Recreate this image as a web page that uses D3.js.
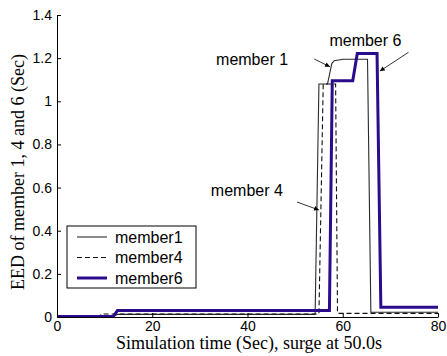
<!DOCTYPE html>
<html>
<head>
<meta charset="utf-8">
<script src="https://cdn.jsdelivr.net/npm/d3@7"></script>
<style>
body { margin: 0; background: #fff; }
svg { display: block; }
</style>
</head>
<body>
<script>
var width = 447;
var height = 356;
var margin = {top: 15, right: 9, bottom: 39, left: 57};

// data: [time (s), EED (s)] step samples
var member1 = [[0, 0.001], [3, 0.005], [12, 0.005], [12.7, 0.012], [54.2, 0.012], [55.0, 1.08],
    [56.8, 1.08], [57.7, 1.175], [58.2, 1.188], [60.1, 1.195], [65.2, 1.195], [65.9, 0.022], [80, 0.022]];
var member4 = [[0, 0.001], [9, 0.003], [9.3, 0.014], [55.0, 0.014], [55.9, 1.08], [58.5, 1.08],
    [58.9, 0.017], [80, 0.017]];
var member6 = [[0, 0.002], [11.8, 0.002], [12.7, 0.03], [57.2, 0.03], [57.8, 1.095], [62.1, 1.095],
    [63.05, 1.222], [67.2, 1.222], [68.0, 0.045], [80, 0.045]];

var x_ticks = [0, 20, 40, 60, 80];
var y_ticks = [0, 0.2, 0.4, 0.6, 0.8, 1, 1.2, 1.4];
var legend_names = ["member1", "member4", "member6"];

// annotations: text anchor and arrow (from, to) in data units
var notes = [
    {label: "member 1", tx: 33.4, ty: 1.168, from: [54.0, 1.196], to: [57.3, 1.16]},
    {label: "member 6", tx: 57.2, ty: 1.258, from: [73.8, 1.227], to: [67.8, 1.14]},
    {label: "member 4", tx: 32.3, ty: 0.562, from: [50.4, 0.533], to: [55.0, 0.496]}
];

var sans = "'Liberation Sans', Arial, Helvetica, sans-serif";
var serif = "'Liberation Serif', 'Times New Roman', serif";

var series = [
    {name: "member1", data: member1, color: "#2a2a2a", w: 1.1, dash: null},
    {name: "member4", data: member4, color: "#111", w: 1.1, dash: "5,3"},
    {name: "member6", data: member6, color: "#2a0b8c", w: 3, dash: null}
];

var svg = d3.select("body")
    .append("svg")
    .attr("width", width)
    .attr("height", height);

var x = d3.scaleLinear().domain([0, 80]).range([margin.left, width - margin.right]);
var y = d3.scaleLinear().domain([0, 1.4]).range([height - margin.bottom, margin.top]);

var line = d3.line()
    .x(function(d) { return x(d[0]); })
    .y(function(d) { return y(d[1]); });

svg.selectAll("path.series")
    .data(series)
    .enter()
    .append("path")
    .attr("class", "series")
    .attr("d", function(d) { return line(d.data); })
    .attr("fill", "none")
    .attr("stroke", function(d) { return d.color; })
    .attr("stroke-width", function(d) { return d.w; })
    .attr("stroke-dasharray", function(d) { return d.dash; });

// axes, MATLAB style ticks pointing inward
var xAxis = svg.append("g")
    .attr("transform", "translate(0," + y(0) + ")")
    .call(d3.axisBottom(x).tickValues(x_ticks).tickSizeInner(-4).tickSizeOuter(0).tickPadding(4));

var yAxis = svg.append("g")
    .attr("transform", "translate(" + x(0) + ",0)")
    .call(d3.axisLeft(y).tickValues(y_ticks).tickSizeInner(-4).tickSizeOuter(0).tickPadding(5)
        .tickFormat(function(d) { return String(Math.round(d * 10) / 10); }));

[xAxis, yAxis].forEach(function(g) {
    g.selectAll("text").attr("font-family", sans).attr("font-size", "14px").attr("fill", "#000");
    g.selectAll("line").attr("stroke", "#000");
    g.select(".domain").attr("stroke", "#000");
});

svg.append("text")
    .attr("x", 249)
    .attr("y", 349)
    .attr("text-anchor", "middle")
    .attr("font-family", serif)
    .attr("font-size", "18px")
    .text("Simulation time (Sec), surge at 50.0s");

svg.append("text")
    .attr("transform", "translate(24," + 172 + ") rotate(-90)")
    .attr("text-anchor", "middle")
    .attr("font-family", serif)
    .attr("font-size", "18px")
    .text("EED of member 1, 4 and 6 (Sec)");

// annotations with arrows
svg.append("defs").append("marker")
    .attr("id", "arrow")
    .attr("viewBox", "0 0 10 10")
    .attr("refX", 10)
    .attr("refY", 5)
    .attr("markerWidth", 8)
    .attr("markerHeight", 6)
    .attr("orient", "auto")
    .append("path")
    .attr("d", "M0,0 L10,5 L0,10 z")
    .attr("fill", "#000");

svg.selectAll("text.note")
    .data(notes)
    .enter()
    .append("text")
    .attr("class", "note")
    .attr("x", function(d) { return x(d.tx); })
    .attr("y", function(d) { return y(d.ty); })
    .attr("font-family", sans)
    .attr("font-size", "16px")
    .text(function(d) { return d.label; });

svg.selectAll("line.arrow")
    .data(notes)
    .enter()
    .append("line")
    .attr("class", "arrow")
    .attr("x1", function(d) { return x(d.from[0]); })
    .attr("y1", function(d) { return y(d.from[1]); })
    .attr("x2", function(d) { return x(d.to[0]); })
    .attr("y2", function(d) { return y(d.to[1]); })
    .attr("stroke", "#000")
    .attr("stroke-width", 0.8)
    .attr("marker-end", "url(#arrow)");

// legend
var legend = svg.append("g").attr("transform", "translate(67,226)");
legend.append("rect")
    .attr("width", 129)
    .attr("height", 62)
    .attr("fill", "#fff")
    .attr("stroke", "#000")
    .attr("stroke-width", 1);

var rows = legend.selectAll("g.row")
    .data(series)
    .enter()
    .append("g")
    .attr("class", "row")
    .attr("transform", function(d, i) { return "translate(0," + (11 + i * 20.5) + ")"; });

rows.append("line")
    .attr("x1", 10)
    .attr("x2", 40)
    .attr("stroke", function(d) { return d.color; })
    .attr("stroke-width", function(d) { return d.w; })
    .attr("stroke-dasharray", function(d) { return d.dash; });

rows.append("text")
    .attr("x", 48)
    .attr("y", 5.5)
    .attr("font-family", sans)
    .attr("font-size", "16px")
    .text(function(d, i) { return legend_names[i]; });
</script>
</body>
</html>
